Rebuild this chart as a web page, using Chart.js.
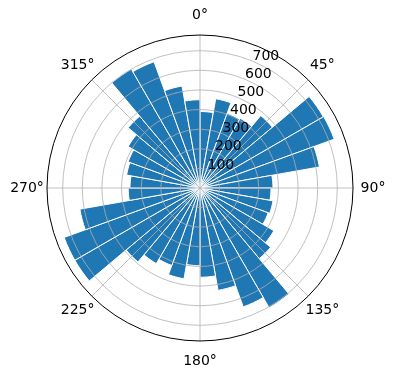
<!DOCTYPE html>
<html>
<head>
<meta charset="utf-8">
<script src="https://cdn.jsdelivr.net/npm/chart.js@4"></script>
<style>
  html, body { margin: 0; padding: 0; background: #fff; }
</style>
</head>
<body>
<canvas id="rose" width="396" height="380"></canvas>
<script>
// 10 degree sectors, clockwise from north
const sectors = ['0°', '10°', '20°', '30°', '40°', '50°', '60°', '70°', '80°',
    '90°', '100°', '110°', '120°', '130°', '140°', '150°', '160°', '170°',
    '180°', '190°', '200°', '210°', '220°', '230°', '240°', '250°', '260°',
    '270°', '280°', '290°', '300°', '310°', '320°', '330°', '340°', '350°'];
const counts = [390, 462, 405, 410, 482, 726, 728, 618, 372,
    362, 378, 370, 435, 470, 705, 645, 530, 455,
    396, 470, 420, 445, 492, 737, 737, 622, 366,
    357, 380, 390, 423, 478, 700, 685, 528, 450];
const radialTicks = [100, 200, 300, 400, 500, 600, 700];
const angleTicks = [0, 45, 90, 135, 180, 225, 270, 315];
const angleTickLabels = ['0°', '45°', '90°', '135°', '180°', '225°', '270°', '315°'];
const rMax = 780;

const FONT = '14px "DejaVu Sans", sans-serif';

// grid, spine and labels drawn on top of the bars like matplotlib does
const polarOverlay = {
    id: 'polarOverlay',
    afterDatasetsDraw(chart) {
        const s = chart.scales.r;
        const ctx = chart.ctx;
        const cx = s.xCenter, cy = s.yCenter;
        const R = s.getDistanceFromCenterForValue(rMax);
        ctx.save();
        ctx.strokeStyle = '#b0b0b0';
        ctx.lineWidth = 0.8;
        radialTicks.forEach(v => {
            ctx.beginPath();
            ctx.arc(cx, cy, s.getDistanceFromCenterForValue(v), 0, Math.PI * 2);
            ctx.stroke();
        });
        angleTicks.forEach(a => {
            const t = a * Math.PI / 180;
            ctx.beginPath();
            ctx.moveTo(cx, cy);
            ctx.lineTo(cx + R * Math.sin(t), cy - R * Math.cos(t));
            ctx.stroke();
        });
        ctx.strokeStyle = '#000';
        ctx.lineWidth = 1;
        ctx.beginPath();
        ctx.arc(cx, cy, R, 0, Math.PI * 2);
        ctx.stroke();

        ctx.fillStyle = '#000';
        ctx.font = FONT;
        // radial tick labels along 22.5 deg
        const lt = 22.5 * Math.PI / 180;
        ctx.textAlign = 'left';
        ctx.textBaseline = 'bottom';
        radialTicks.forEach(v => {
            const d = s.getDistanceFromCenterForValue(v);
            ctx.fillText(String(v), cx + d * Math.sin(lt), cy - d * Math.cos(lt) + 2);
        });
        // angle labels
        ctx.textAlign = 'center';
        ctx.textBaseline = 'middle';
        angleTicks.forEach((a, i) => {
            const t = a * Math.PI / 180;
            const d = R + 20;
            ctx.fillText(angleTickLabels[i], cx + d * Math.sin(t), cy - d * Math.cos(t));
        });
        ctx.restore();
    }
};

new Chart(document.getElementById('rose'), {
    type: 'polarArea',
    data: {
        labels: sectors,
        datasets: [{
            data: counts,
            backgroundColor: '#1f77b4',
            borderColor: '#ffffff',
            borderWidth: 1
        }]
    },
    options: {
        responsive: false,
        animation: false,
        layout: { padding: { left: 46.6, right: 42, top: 35, bottom: 37.6 } },
        plugins: { legend: { display: false }, tooltip: { enabled: false } },
        scales: {
            r: {
                min: 0,
                max: rMax,
                startAngle: 0,
                grid: { display: false },
                angleLines: { display: false },
                ticks: { display: false },
                pointLabels: { display: false }
            }
        }
    },
    plugins: [polarOverlay]
});
</script>
</body>
</html>
